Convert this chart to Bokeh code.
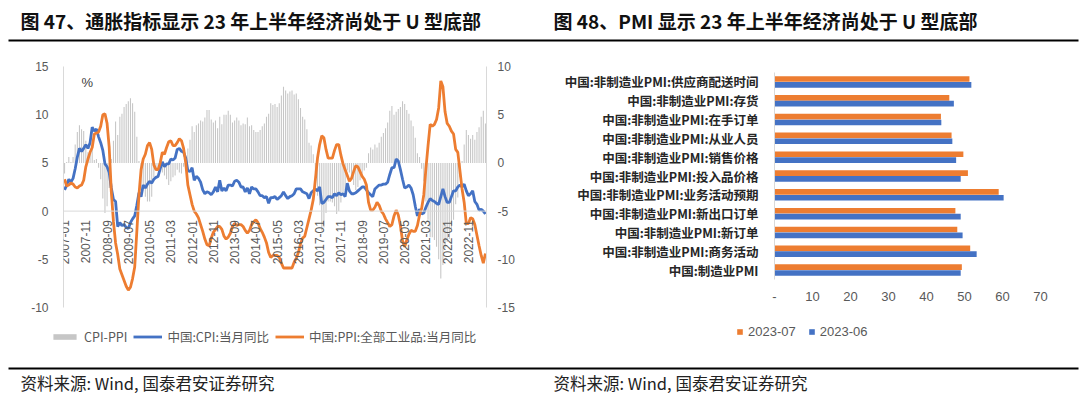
import numpy as np
from bokeh.plotting import figure
from bokeh.models import (Range1d, LinearAxis, CategoricalAxis, FixedTicker, Legend, LegendItem,
                          Label, LabelSet, ColumnDataSource, FactorRange, Span)
from bokeh.layouts import column, row
from bokeh.embed import file_html
from bokeh.resources import INLINE
from bokeh.core.properties import value
from bokeh.transform import dodge

# ---------------- data: left chart (monthly, 2007-01 .. 2023-07) ----------------
months = [f"{y}-{m:02d}" for y in range(2007, 2024) for m in range(1, 13)][:199]

cpi = [
    2.2, 2.7, 3.3, 3.0, 3.4, 4.4, 5.6, 6.5, 6.2, 6.5, 6.9, 6.5,
    7.1, 8.7, 8.3, 8.5, 7.7, 7.1, 6.3, 4.9, 4.6, 4.0, 2.4, 1.2,
    1.0, -1.6, -1.2, -1.5, -1.4, -1.7, -1.8, -1.2, -0.8, -0.5, 0.6, 1.9,
    1.5, 2.7, 2.4, 2.8, 3.1, 2.9, 3.3, 3.5, 3.6, 4.4, 5.1, 4.6,
    4.9, 4.9, 5.4, 5.3, 5.5, 6.4, 6.5, 6.2, 6.1, 5.5, 4.2, 4.1,
    4.5, 3.2, 3.6, 3.4, 3.0, 2.2, 1.8, 2.0, 1.9, 1.7, 2.0, 2.5,
    2.0, 3.2, 2.1, 2.4, 2.1, 2.7, 2.7, 2.6, 3.1, 3.2, 3.0, 2.5,
    2.5, 2.0, 2.4, 1.8, 2.5, 2.3, 2.3, 2.0, 1.6, 1.6, 1.4, 1.5,
    0.8, 1.4, 1.4, 1.5, 1.2, 1.4, 1.6, 2.0, 1.6, 1.3, 1.5, 1.6,
    1.8, 2.3, 2.3, 2.3, 2.0, 1.9, 1.8, 1.3, 1.9, 2.1, 2.3, 2.1,
    2.5, 0.8, 0.9, 1.2, 1.5, 1.5, 1.4, 1.8, 1.6, 1.9, 1.7, 1.8,
    1.5, 2.9, 2.1, 1.8, 1.8, 1.9, 2.1, 2.3, 2.5, 2.5, 2.2, 1.9,
    1.7, 1.5, 2.3, 2.5, 2.7, 2.7, 2.8, 2.8, 3.0, 3.8, 4.5, 4.5,
    5.4, 5.2, 4.3, 3.3, 2.4, 2.5, 2.7, 2.4, 1.7, 0.5, -0.5, 0.2,
    -0.3, -0.2, 0.4, 0.9, 1.3, 1.1, 1.0, 0.8, 0.7, 1.5, 2.3, 1.5,
    0.9, 0.9, 1.5, 2.1, 2.1, 2.5, 2.7, 2.5, 2.8, 2.1, 1.6, 1.8,
    2.1, 1.0, 0.7, 0.1, 0.2, 0.0, -0.3,
]

ppi = [
    3.3, 2.6, 2.7, 2.9, 2.8, 2.5, 2.4, 2.6, 2.7, 3.2, 4.6, 5.4,
    6.1, 6.6, 8.0, 8.1, 8.2, 8.8, 10.0, 10.1, 9.1, 6.6, 2.0, -1.1,
    -3.3, -4.5, -6.0, -6.6, -7.2, -7.8, -8.2, -7.9, -7.0, -5.8, -2.1, 1.7,
    4.3, 5.4, 5.9, 6.8, 7.1, 6.4, 4.8, 4.3, 4.3, 5.0, 6.1, 5.9,
    6.6, 7.2, 7.3, 6.8, 6.8, 7.1, 7.5, 7.3, 6.5, 5.0, 2.7, 1.7,
    0.7, 0.0, -0.3, -0.7, -1.4, -2.1, -2.9, -3.5, -3.6, -2.8, -2.2, -1.9,
    -1.6, -1.6, -1.9, -2.6, -2.9, -2.7, -2.3, -1.6, -1.3, -1.5, -1.4, -1.4,
    -1.6, -2.0, -2.3, -2.0, -1.4, -1.1, -0.9, -1.2, -1.8, -2.2, -2.7, -3.3,
    -4.3, -4.8, -4.6, -4.6, -4.6, -4.8, -5.4, -5.9, -5.9, -5.9, -5.9, -5.9,
    -5.3, -4.9, -4.3, -3.4, -2.8, -2.6, -1.7, -0.8, 0.1, 1.2, 3.3, 5.5,
    6.9, 7.8, 7.6, 6.4, 5.5, 5.5, 5.5, 6.3, 6.9, 6.9, 5.8, 4.9,
    4.3, 3.7, 3.1, 3.4, 4.1, 4.7, 4.6, 4.1, 3.6, 3.3, 2.7, 0.9,
    0.1, 0.1, 0.4, 0.9, 0.6, 0.0, -0.3, -0.8, -1.2, -1.6, -1.4, -0.5,
    0.1, -0.4, -1.5, -3.1, -3.7, -3.0, -2.4, -2.0, -2.1, -2.1, -1.5, -0.4,
    0.3, 1.7, 4.4, 6.8, 9.0, 8.8, 9.0, 9.5, 10.7, 13.5, 12.9, 10.3,
    9.1, 8.8, 8.3, 8.0, 6.4, 6.1, 4.2, 2.3, 0.9, -1.3, -1.3, -0.7,
    -0.8, -1.4, -2.5, -3.6, -4.6, -5.4, -4.4,
]

cpi_ppi = [round(c - p, 1) for c, p in zip(cpi, ppi)]
tick_step = 10
left_ticks = [-10, -5, 0, 5, 10, 15]
right_ticks = [-15, -10, -5, 0, 5, 10]

# ---------------- data: right chart ----------------
pmi_cats = [
    "中国:非制造业PMI:供应商配送时间",
    "中国:非制造业PMI:存货",
    "中国:非制造业PMI:在手订单",
    "中国:非制造业PMI:从业人员",
    "中国:非制造业PMI:销售价格",
    "中国:非制造业PMI:投入品价格",
    "中国:非制造业PMI:业务活动预期",
    "中国:非制造业PMI:新出口订单",
    "中国:非制造业PMI:新订单",
    "中国:非制造业PMI:商务活动",
    "中国:制造业PMI",
]
pmi_2023_07 = [51.3, 46.0, 43.8, 46.6, 49.7, 50.9, 59.0, 47.6, 48.1, 51.5, 49.3]
pmi_2023_06 = [51.8, 47.2, 43.9, 46.8, 47.8, 49.0, 60.3, 49.0, 49.5, 53.2, 49.0]
pmi_ticks = [0, 10, 20, 30, 40, 50, 60, 70]

title_left = "图 47、通胀指标显示 23 年上半年经济尚处于 U 型底部"
title_right = "图 48、PMI 显示 23 年上半年经济尚处于 U 型底部"
source_text = "资料来源: Wind, 国泰君安证券研究"

BLUE = "#4472C4"
ORANGE = "#ED7D31"
GRAY = "#c6c6c6"
TICK_C = "#595959"
AX_C = "#d9d9d9"
CJK = "Noto Sans CJK SC"
NUM = "Liberation Sans"

TOTAL_W = 1080
HEAD_H = 48
FOOT_H = 31


def bare(fig):
    fig.outline_line_color = None
    fig.grid.grid_line_color = None
    fig.background_fill_color = "white"
    fig.border_fill_color = "white"
    fig.frame_align = False


def strip(width, height, left, top):
    # legend strip: its view range lies left of all data, so only the legend shows
    f = figure(width=width, height=height, x_range=Range1d(-10, -5), y_range=Range1d(-10, -5),
               output_backend="svg", toolbar_location=None,
               min_border_left=left, min_border_top=top, min_border_right=0, min_border_bottom=0,
               x_axis_location=None, y_axis_location=None)
    bare(f)
    return f


def style_axis(ax, standoff, size="12px", font=NUM, color=TICK_C, line=AX_C):
    ax.axis_line_color = line
    ax.major_tick_line_color = None
    ax.minor_tick_line_color = None
    ax.major_tick_out = 0
    ax.major_tick_in = 0
    ax.major_label_text_font_size = size
    ax.major_label_text_color = color
    ax.major_label_text_font = font
    ax.major_label_standoff = standoff


# ---------------- header ----------------
head = figure(width=TOTAL_W, height=HEAD_H, x_range=Range1d(0, TOTAL_W), y_range=Range1d(HEAD_H, 0),
              output_backend="svg", toolbar_location=None, min_border=0,
              x_axis_location=None, y_axis_location=None)
bare(head)
head.text(x=[20, 553], y=[20, 20], text=[title_left, title_right], text_font=value(CJK),
          text_font_size="19px", text_font_style="bold", text_baseline="middle",
          text_align="left", text_color="#111111")
head.segment(x0=[8], y0=[40], x1=[1078], y1=[40], line_color="black", line_width=2)

# ---------------- left chart ----------------
idx = list(range(len(months)))
p1 = figure(width=540, height=266, x_range=Range1d(-0.5, len(months) - 0.5), y_range=Range1d(-10, 15),
            output_backend="svg", toolbar_location=None,
            min_border_left=63, min_border_right=54, min_border_top=18, min_border_bottom=7,
            x_axis_location=None, y_axis_location=None)
bare(p1)
p1.extra_y_ranges = {"r": Range1d(-15, 10)}

yl = LinearAxis(ticker=FixedTicker(ticks=left_ticks),
                major_label_overrides={t: str(t) for t in left_ticks})
yr = LinearAxis(y_range_name="r", ticker=FixedTicker(ticks=right_ticks),
                major_label_overrides={t: str(t) for t in right_ticks})
style_axis(yl, 15)
style_axis(yr, 11)
p1.add_layout(yl, "left")
p1.add_layout(yr, "right")

p1.vbar(x=idx, top=cpi_ppi, bottom=0, width=0.5, y_range_name="r",
        fill_color=GRAY, line_color=None)
p1.add_layout(Span(location=0, dimension="width", line_color=AX_C, line_width=1))
p1.line(idx, cpi, line_color=BLUE, line_width=2.8)
p1.line(idx, ppi, line_color=ORANGE, line_width=2.8)

tick_src = ColumnDataSource(dict(x=idx[::tick_step], y=[0] * len(idx[::tick_step]),
                                 t=months[::tick_step]))
p1.add_layout(LabelSet(x="x", y="y", text="t", source=tick_src, angle=np.pi / 2, y_offset=-9,
                       text_align="right", text_baseline="middle", text_font=value(NUM),
                       text_font_size="12px", text_color=TICK_C))
p1.add_layout(Label(x=8, y=13.3, text="%", text_font=NUM, text_font_size="13px",
                    text_color="#404040", text_baseline="middle"))

# legend strip for the left chart
lf1 = strip(540, 52, 50, 13)
g_bar = lf1.vbar(x=idx, top=cpi_ppi, width=0.5, fill_color=GRAY, line_color=None)
g_cpi = lf1.line(idx, cpi, line_color=BLUE, line_width=2.8)
g_ppi = lf1.line(idx, ppi, line_color=ORANGE, line_width=2.8)
leg1 = Legend(items=[LegendItem(label="CPI-PPI", renderers=[g_bar]),
                     LegendItem(label="中国:CPI:当月同比", renderers=[g_cpi]),
                     LegendItem(label="中国:PPI:全部工业品:当月同比", renderers=[g_ppi])],
              orientation="horizontal", location="top_left", padding=0, margin=0,
              spacing=6, glyph_width=29, glyph_height=7, label_height=12, label_standoff=5,
              label_text_font=CJK, label_text_font_size="12.5px", label_text_color=TICK_C,
              background_fill_alpha=0, border_line_color=None)
lf1.add_layout(leg1, "center")

# ---------------- right chart ----------------
src = ColumnDataSource(dict(cat=pmi_cats, jul=pmi_2023_07, jun=pmi_2023_06))
p2 = figure(width=540, height=262, y_range=FactorRange(*pmi_cats[::-1]), x_range=Range1d(0, 70),
            output_backend="svg", toolbar_location=None,
            min_border_left=234, min_border_right=40, min_border_top=24, min_border_bottom=31,
            x_axis_location=None, y_axis_location=None)
bare(p2)
p2.hbar(y=dodge("cat", 0.155, range=p2.y_range), left=0, right="jul", height=0.3,
        fill_color=ORANGE, line_color=None, source=src)
p2.hbar(y=dodge("cat", -0.155, range=p2.y_range), left=0, right="jun", height=0.3,
        fill_color=BLUE, line_color=None, source=src)

cax = CategoricalAxis()
style_axis(cax, 16, size="12.5px", font=CJK, color="#262626")
cax.major_label_text_font_style = "bold"
p2.add_layout(cax, "left")
xax = LinearAxis(ticker=FixedTicker(ticks=pmi_ticks), major_label_overrides={0: "-"})
style_axis(xax, 12, size="13px", line=None)
p2.add_layout(xax, "below")

# legend strip for the right chart
lf2 = strip(540, 56, 196, 14)
ypos = list(range(len(pmi_cats)))
g_jul = lf2.hbar(y=ypos, left=0, right=pmi_2023_07, height=0.3, fill_color=ORANGE, line_color=None)
g_jun = lf2.hbar(y=ypos, left=0, right=pmi_2023_06, height=0.3, fill_color=BLUE, line_color=None)
leg2 = Legend(items=[LegendItem(label="2023-07", renderers=[g_jul]),
                     LegendItem(label="2023-06", renderers=[g_jun])],
              orientation="horizontal", location="top_left", padding=0, margin=0,
              spacing=12, glyph_width=7, glyph_height=7, label_height=13, label_standoff=5,
              label_text_font=NUM, label_text_font_size="13px", label_text_color=TICK_C,
              background_fill_alpha=0, border_line_color=None)
lf2.add_layout(leg2, "center")

# ---------------- footer ----------------
foot = figure(width=TOTAL_W, height=FOOT_H, x_range=Range1d(0, TOTAL_W), y_range=Range1d(FOOT_H, 0),
              output_backend="svg", toolbar_location=None, min_border=0,
              x_axis_location=None, y_axis_location=None)
bare(foot)
foot.segment(x0=[8], y0=[2], x1=[1078], y1=[2], line_color="black", line_width=2)
foot.text(x=[20, 553], y=[16, 16], text=[source_text, source_text], text_font=value(CJK),
          text_font_size="16.5px", text_baseline="middle", text_align="left", text_color="#222222")

layout = column(head, row(column(p1, lf1), column(p2, lf2)), foot)
open("out.html", "w").write(file_html(layout, INLINE))
